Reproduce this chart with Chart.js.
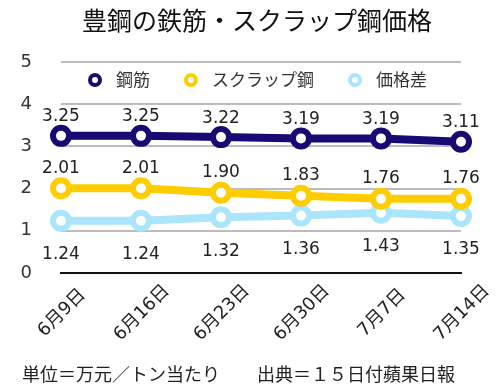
<!DOCTYPE html>
<html><head><meta charset="utf-8">
<script src="https://cdn.jsdelivr.net/npm/chart.js@4/dist/chart.umd.min.js"></script>
<style>html,body{margin:0;padding:0;background:#fff}#wrap{width:504px;height:391px}</style>
</head><body><div id="wrap"><canvas id="c" width="504" height="391"></canvas></div>
<script>
const categories = ["6月9日","6月16日","6月23日","6月30日","7月7日","7月14日"];
const rebar = [3.25,3.25,3.22,3.19,3.19,3.11];
const scrap = [2.01,2.01,1.90,1.83,1.76,1.76];
const spread = [1.24,1.24,1.32,1.36,1.43,1.35];
const seriesNames = ["鋼筋","スクラップ鋼","価格差"];
const yTicks = [0,1,2,3,4,5];
const titleText = "豊鋼の鉄筋・スクラップ鋼価格";
const footLeft = "単位＝万元／トン当たり";
const footRight = "出典＝１５日付蘋果日報";

const FONT = '"Noto Sans CJK JP", "Noto Sans", sans-serif';
const NUMFONT = '"DejaVu Sans", "Noto Sans CJK JP", sans-serif';
const colors = ["#170a72","#ffcc00","#abe5fb"];
const labelOffsets = [-19,-20,34];

const deco = {
  id:'deco',
  afterDraw(chart){
    const ctx = chart.ctx;
    const xs = chart.scales.x;
    ctx.save();
    // title
    ctx.fillStyle = '#111';
    ctx.font = '25px ' + FONT;
    ctx.textAlign = 'center'; ctx.textBaseline = 'middle';
    ctx.fillText(titleText, 257, 20);
    // data labels
    ctx.font = '17px ' + NUMFONT;
    ctx.fillStyle = '#222';
    chart.data.datasets.forEach((ds, di) => {
      const meta = chart.getDatasetMeta(di);
      meta.data.forEach((pt, i) => {
        ctx.fillText(ds.data[i].toFixed(2), pt.x, pt.y + labelOffsets[di]);
      });
    });
    // x labels rotated
    ctx.font = '18px ' + NUMFONT;
    ctx.fillStyle = '#222';
    categories.forEach((c, i) => {
      const x = xs.getPixelForValue(i);
      ctx.save();
      ctx.translate(x + 1, 313);
      ctx.rotate(-Math.PI/4);
      ctx.textAlign = 'center'; ctx.textBaseline = 'middle';
      ctx.fillText(c, 0, 0);
      ctx.restore();
    });
    // legend
    ctx.font = '17px ' + FONT;
    ctx.textAlign = 'left'; ctx.textBaseline = 'middle';
    let x = 95;
    const ly = 80;
    seriesNames.forEach((n, i) => {
      ctx.beginPath();
      ctx.arc(x, ly, 5, 0, Math.PI*2);
      ctx.fillStyle = '#fff'; ctx.fill();
      ctx.lineWidth = 4; ctx.strokeStyle = colors[i]; ctx.stroke();
      ctx.fillStyle = '#333';
      ctx.fillText(n, x + 21, ly);
      x = x + 21 + ctx.measureText(n).width + 41;
    });
    // footer
    ctx.font = '18px ' + FONT;
    ctx.fillStyle = '#222';
    ctx.textAlign = 'left';
    ctx.fillText(footLeft, 22, 374);
    ctx.fillText(footRight, 257, 374);
    ctx.restore();
  }
};

const mk = (i, data) => ({
  label: seriesNames[i], data,
  borderColor: colors[i], backgroundColor: '#fff',
  borderWidth: 8, pointRadius: 8, pointHoverRadius: 8,
  pointBorderWidth: 6, pointBackgroundColor: '#fff', pointBorderColor: colors[i],
  tension: 0, clip: false
});

new Chart(document.getElementById('c'), {
  type: 'line',
  data: { labels: categories, datasets: [mk(2, spread), mk(1, scrap), mk(0, rebar)].reverse() },
  options: {
    responsive: false, animation: false, devicePixelRatio: 1,
    layout: { padding: { top: 62, right: 43, left: 0, bottom: 0 } },
    plugins: { legend: { display: false }, title: { display: false }, tooltip: { enabled: false } },
    scales: {
      x: {
        offset: false,
        ticks: { display: false },
        grid: { display: false },
        border: { display: true, color: '#111', width: 2 },
        afterFit(s){ s.height = 118; }
      },
      y: {
        min: 0, max: 5,
        afterBuildTicks(s){ s.ticks = yTicks.map(v => ({value: v})); },
        ticks: { font: { size: 18, family: NUMFONT }, color: '#333', padding: 29 },
        grid: { drawTicks: false, lineWidth: 2, color: ctx => ctx.tick && ctx.tick.value === 0 ? '#111' : '#bcbcbc' },
        border: { display: false },
        afterFit(s){ s.width = 61; }
      }
    }
  },
  plugins: [deco]
});
</script></body></html>
